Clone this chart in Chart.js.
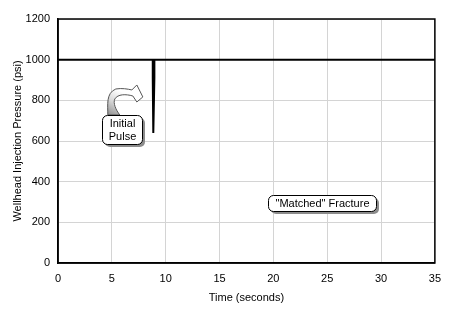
<!DOCTYPE html>
<html>
<head>
<meta charset="utf-8">
<script src="https://cdn.jsdelivr.net/npm/chart.js@4.4.1/dist/chart.umd.min.js"></script>
<style>
  html, body { margin: 0; padding: 0; background: #fff; }
  #wrap { width: 450px; height: 309px; position: relative; }
</style>
</head>
<body>
<div id="wrap"><canvas id="chart" width="450" height="309"></canvas></div>
<script>
// Pressure trace
const timeSec = [0, 8.8, 8.8, 8.85, 8.95, 8.95, 35];
const pressurePsi = [1000, 1000, 910, 640, 910, 1000, 1000];
const xTicks = [0, 5, 10, 15, 20, 25, 30, 35];
const yTicks = [0, 200, 400, 600, 800, 1000, 1200];

const FONT = 'Liberation Sans, Arial, sans-serif';

// rounded box with a grey drop shadow
function calloutBox(ctx, x, y, w, h, lines) {
    const r = 5;
    ctx.save();
    ctx.fillStyle = '#8c8c8c';
    ctx.beginPath();
    ctx.roundRect(x + 3, y + 3, w, h, r);
    ctx.fill();
    ctx.fillStyle = '#fff';
    ctx.strokeStyle = '#000';
    ctx.lineWidth = 1;
    ctx.beginPath();
    ctx.roundRect(x + 0.5, y + 0.5, w, h, r);
    ctx.fill();
    ctx.stroke();
    ctx.fillStyle = '#000';
    ctx.font = '11px ' + FONT;
    ctx.textAlign = 'center';
    ctx.textBaseline = 'middle';
    const lh = 13;
    const y0 = y + h / 2 - (lines.length - 1) * lh / 2 + 1;
    lines.forEach((t, i) => ctx.fillText(t, x + w / 2 + 0.5, y0 + i * lh));
    ctx.restore();
}

const annotations = {
    id: 'annotations',
    afterDatasetsDraw(chart) {
        const { ctx, scales: { x, y } } = chart;
        // curved hollow arrow from the pulse label towards the dip
        const bx = x.getPixelForValue(5.0), by = y.getPixelForValue(728);
        ctx.save();
        ctx.lineWidth = 1;
        ctx.strokeStyle = '#555';
        const g = ctx.createLinearGradient(bx, by, bx + 12, by - 22);
        g.addColorStop(0, '#9a9a9a');
        g.addColorStop(0.5, '#d8d8d8');
        g.addColorStop(1, '#ffffff');
        ctx.fillStyle = g;
        ctx.beginPath();
        ctx.moveTo(bx - 4, by);
        ctx.bezierCurveTo(bx - 4, by - 10, bx - 6, by - 22, bx + 4, by - 26);
        ctx.bezierCurveTo(bx + 10, by - 27, bx + 16, by - 26, bx + 20, by - 25);
        ctx.lineTo(bx + 25, by - 30);
        ctx.lineTo(bx + 31, by - 18);
        ctx.lineTo(bx + 25, by - 13);
        ctx.lineTo(bx + 21, by - 19);
        ctx.bezierCurveTo(bx + 14, by - 21, bx + 6, by - 21, bx + 3, by - 16);
        ctx.bezierCurveTo(bx + 1, by - 12, bx + 4, by - 5, bx + 8, by);
        ctx.closePath();
        ctx.fill();
        ctx.stroke();
        ctx.restore();

        calloutBox(ctx, 102, 115, 40, 29, ['Initial', 'Pulse']);
        calloutBox(ctx, 268, 195, 108, 16, ['"Matched" Fracture']);
    }
};

new Chart(document.getElementById('chart'), {
    type: 'line',
    data: {
        datasets: [{
            data: timeSec.map((t, i) => ({ x: t, y: pressurePsi[i] })),
            borderColor: '#000',
            borderWidth: 2,
            pointRadius: 0,
            tension: 0,
            fill: false
        }]
    },
    options: {
        responsive: false,
        animation: false,
        layout: { padding: { top: 19, right: 15, left: 0, bottom: 0 } },
        plugins: { legend: { display: false }, tooltip: { enabled: false } },
        scales: {
            x: {
                type: 'linear',
                min: 0, max: 35,
                afterBuildTicks: s => { s.ticks = xTicks.map(v => ({ value: v })); },
                afterFit: s => { s.height = 46; },
                grid: { color: '#d4d4d4', lineWidth: 1, drawTicks: false },
                border: { color: '#000', width: 1.5 },
                ticks: { color: '#000', font: { family: FONT, size: 11 }, padding: 9, maxRotation: 0,
                         callback: v => String(v) },
                title: { display: true, text: 'Time (seconds)', color: '#000', font: { family: FONT, size: 11 }, padding: { top: 3 } }
            },
            y: {
                min: 0, max: 1200,
                afterBuildTicks: s => { s.ticks = yTicks.map(v => ({ value: v })); },
                afterFit: s => { s.width = 58; },
                grid: { color: '#d4d4d4', lineWidth: 1, drawTicks: false },
                border: { color: '#000', width: 1.5 },
                ticks: { color: '#000', font: { family: FONT, size: 11 }, padding: 8,
                         callback: v => String(v) },
                title: { display: true, text: 'Wellhead Injection Pressure (psi)', color: '#000', font: { family: FONT, size: 11 }, padding: { top: 11, bottom: 0 } }
            }
        }
    },
    plugins: [annotations, {
        id: 'frame',
        afterDraw(chart) {
            const { ctx, chartArea: a } = chart;
            ctx.save();
            ctx.strokeStyle = '#000';
            ctx.lineWidth = 1.5;
            ctx.strokeRect(a.left, a.top, a.right - a.left, a.bottom - a.top);
            ctx.restore();
        }
    }]
});
</script>
</body>
</html>
